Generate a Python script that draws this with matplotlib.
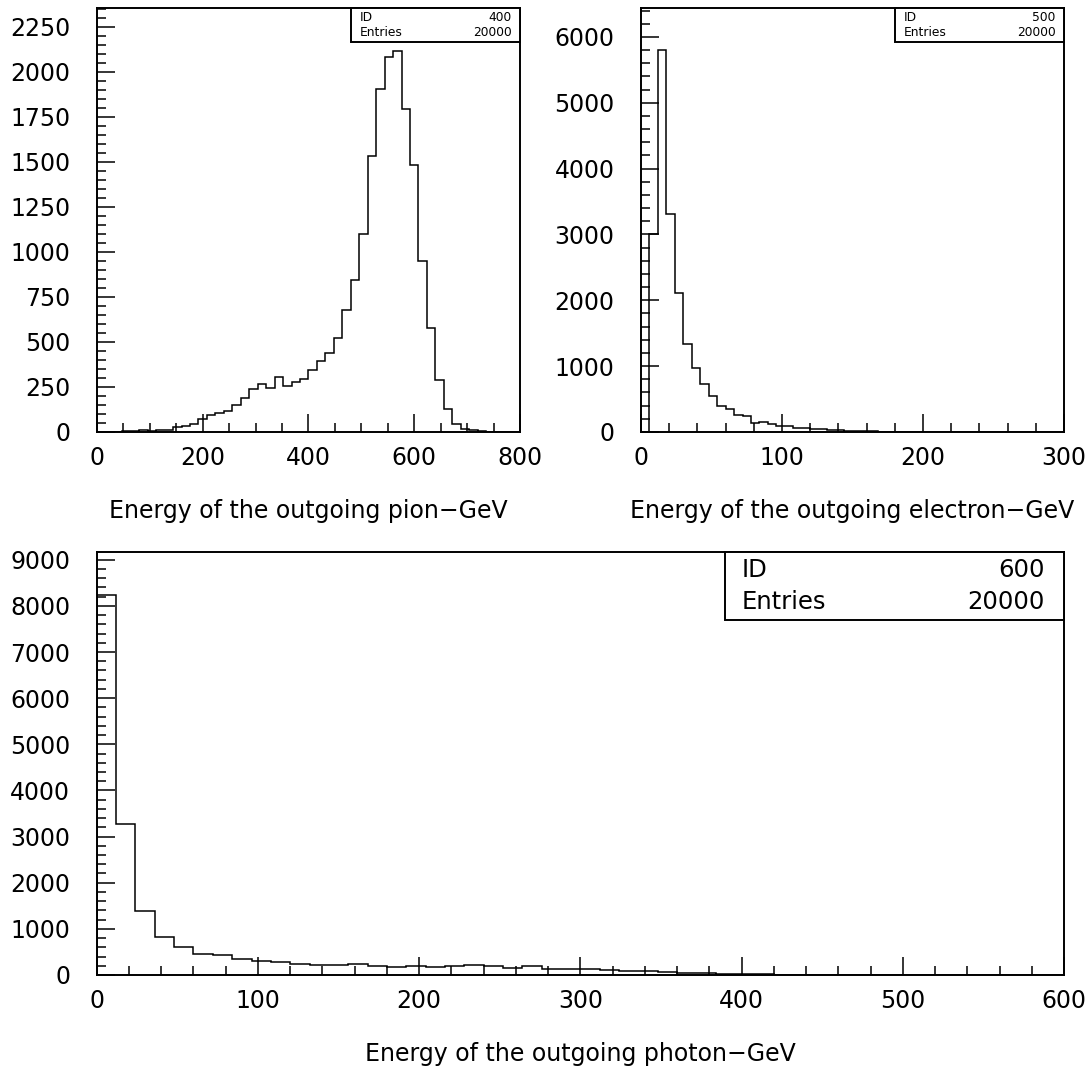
import numpy as np
import matplotlib.pyplot as plt
from matplotlib.ticker import MultipleLocator
from matplotlib.patches import Rectangle

# ---- data: bin counts (50 bins each) ----
pion_range = (0, 800)
pion_counts = [0, 0, 0, 5, 3, 11, 5, 9, 9, 28,
               33, 46, 74, 93, 107, 117, 152, 189, 240, 265,
               244, 305, 257, 276, 292, 346, 394, 438, 524, 675,
               842, 1097, 1534, 1907, 2081, 2116, 1795, 1480, 949, 579,
               290, 126, 43, 18, 9, 5, 0, 0, 0, 0]

electron_range = (0, 300)
electron_counts = [0, 3000, 5803, 3315, 2103, 1343, 978, 730, 545, 395,
                   348, 264, 238, 135, 150, 115, 88, 86, 56, 58,
                   51, 38, 33, 30, 20, 10, 18, 14, 5, 5,
                   5, 4, 4, 3, 0, 0, 0, 0, 0, 0,
                   0, 0, 0, 0, 0, 0, 0, 0, 0, 0]

photon_range = (0, 600)
photon_counts = [8245, 3271, 1386, 816, 599, 448, 426, 339, 303, 289,
                 245, 224, 224, 231, 202, 180, 195, 180, 188, 216,
                 195, 159, 195, 137, 137, 137, 108, 94, 94, 58,
                 50, 36, 20, 20, 12, 10, 5, 4, 3, 0,
                 0, 0, 0, 0, 0, 0, 0, 0, 0, 0]

hist_ids = [400, 500, 600]
entries = [20000, 20000, 20000]
xlabels = ['Energy of the outgoing pion\u2212GeV',
           'Energy of the outgoing electron\u2212GeV',
           'Energy of the outgoing photon\u2212GeV']

plt.rcParams['font.family'] = 'DejaVu Sans'

fig = plt.figure(figsize=(10.92, 10.74), dpi=100)

ax1 = fig.add_axes([0.0888, 0.5978, 0.3874, 0.3948])
ax2 = fig.add_axes([0.5870, 0.5978, 0.3874, 0.3948])
ax3 = fig.add_axes([0.0886, 0.0922, 0.8858, 0.3939])

panels = [
    # ax, counts, range, ymax, x major/minor, y major/minor, box corner, label x, box font
    (ax1, pion_counts, pion_range, 2355, 200, 50, 250, 50, (0.600, 0.920), 0.620, 8.8),
    (ax2, electron_counts, electron_range, 6440, 100, 20, 1000, 200, (0.600, 0.920), 0.620, 8.8),
    (ax3, photon_counts, photon_range, 9170, 100, 20, 1000, 200, (0.650, 0.839), 0.667, 17.5),
]

for i, (ax, counts, rng, ymax, xmaj, xmin, ymaj, ymin, box, lx, bfs) in enumerate(panels):
    edges = np.linspace(rng[0], rng[1], len(counts) + 1)
    ax.stairs(counts, edges, color='black', linewidth=1.1, baseline=0)
    ax.set_xlim(*rng)
    ax.set_ylim(0, ymax)

    ax.xaxis.set_major_locator(MultipleLocator(xmaj))
    ax.xaxis.set_minor_locator(MultipleLocator(xmin))
    ax.yaxis.set_major_locator(MultipleLocator(ymaj))
    ax.yaxis.set_minor_locator(MultipleLocator(ymin))
    ax.tick_params(which='both', direction='in', top=False, right=False,
                   labelsize=17, width=1.1, colors='black')
    ax.tick_params(which='major', length=13)
    ax.tick_params(which='minor', length=6.5)
    ax.tick_params(axis='y', pad=19)
    ax.tick_params(axis='x', pad=10)
    for sp in ax.spines.values():
        sp.set_linewidth(1.4)

    ax.set_xlabel(xlabels[i], fontsize=17, labelpad=21)

    # statistics box, top right corner
    bx, by = box
    ax.add_patch(Rectangle((bx, by), 1 - bx, 1 - by, transform=ax.transAxes,
                           facecolor='white', edgecolor='black', linewidth=1.4,
                           zorder=5, clip_on=False))
    h = 1 - by
    rows = [('ID', str(hist_ids[i])), ('Entries', str(entries[i]))]
    for r, (name, val) in enumerate(rows):
        yy = 1 - h * (0.27 + 0.46 * r)
        ax.text(lx, yy, name, transform=ax.transAxes,
                fontsize=bfs, ha='left', va='center', zorder=6)
        ax.text(0.980, yy, val, transform=ax.transAxes,
                fontsize=bfs, ha='right', va='center', zorder=6)

fig.savefig('out.png', dpi=100, facecolor='white')
